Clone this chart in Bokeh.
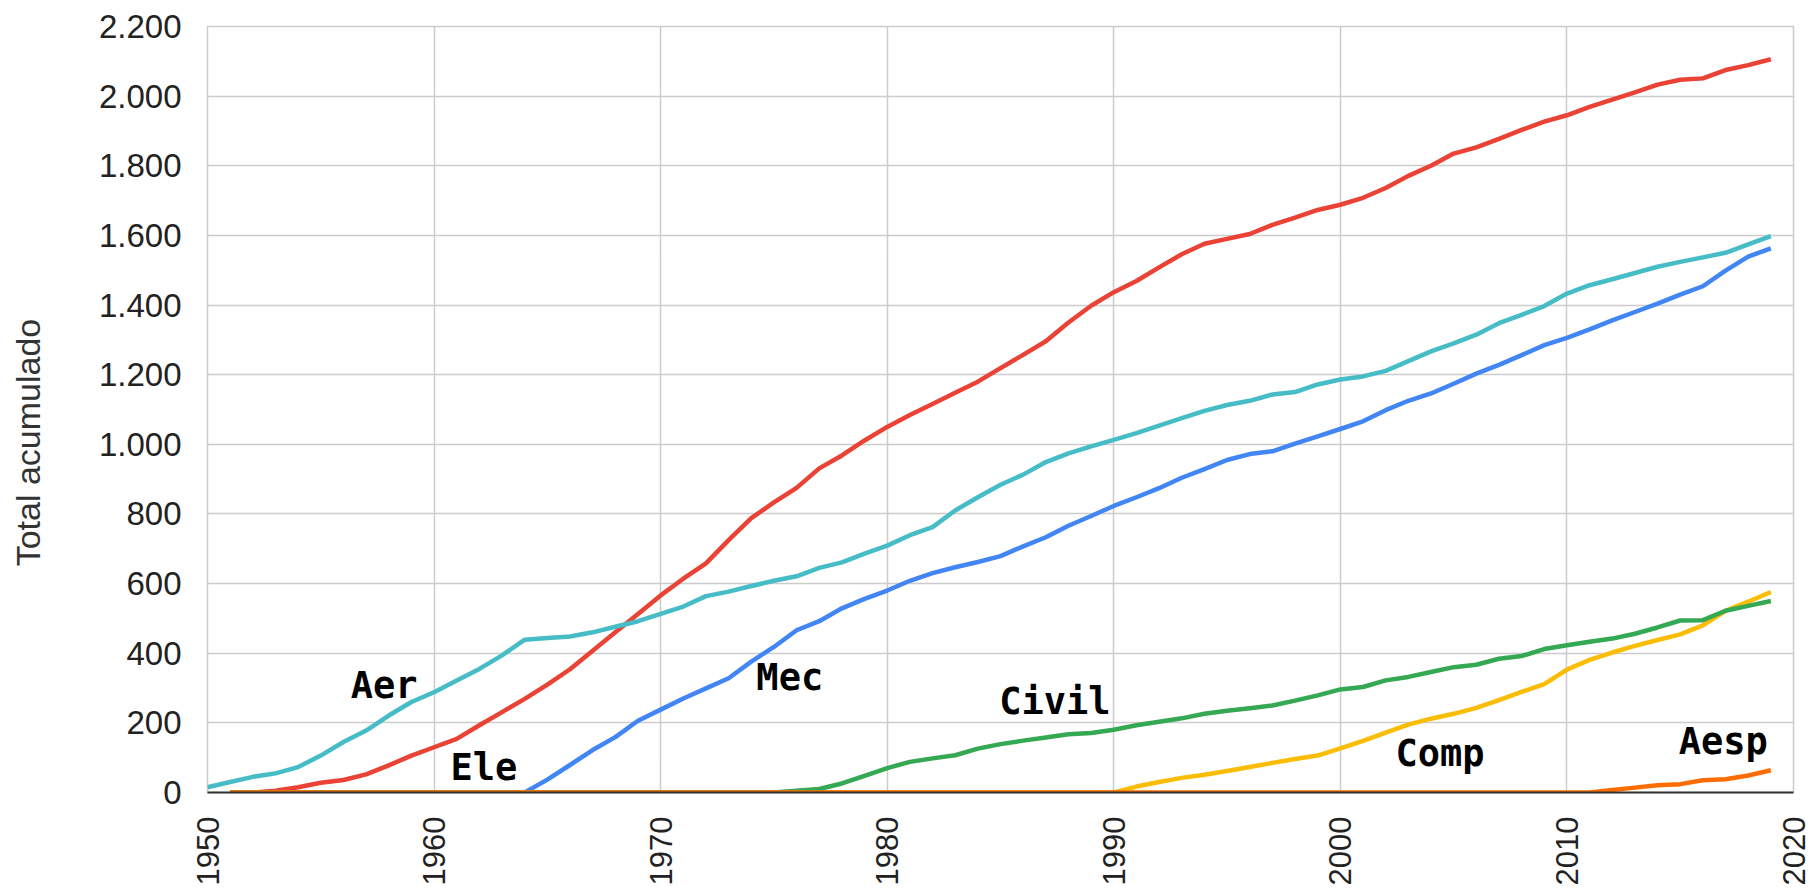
import math
import numpy as np
from bokeh.plotting import figure
from bokeh.models import ColumnDataSource, FixedTicker, Range1d, LinearAxis
from bokeh.core.properties import value
from bokeh.embed import file_html
from bokeh.resources import INLINE

years = list(range(1950, 2020))

mec = [None,
       0, 0, 0, 0, 0, 0, 0, 0, 0, 0, 0, 0, 0, 0,
       37, 79, 122, 159, 206, 238, 270, 299, 328, 376, 418, 466, 492, 529, 556,
       580, 608, 630, 647, 662, 679, 707, 733, 766, 794, 823, 848, 874, 904, 929,
       955, 972, 980, 1002, 1023, 1044, 1066, 1098, 1125, 1146, 1174, 1203, 1228,
       1256, 1285, 1306, 1330, 1356, 1380, 1404, 1430, 1454, 1499, 1539, 1563]

ele = [None,
       0, 0, 5, 15, 28, 36, 52, 78, 106, 130, 154, 193, 231, 269,
       310, 354, 407, 460, 513, 566, 614, 658, 725, 788, 833, 875, 931, 968, 1011,
       1050, 1084, 1116, 1148, 1180, 1219, 1257, 1296, 1350, 1398, 1437, 1469, 1508,
       1546, 1576, 1590, 1604, 1630, 1651, 1673, 1688, 1708, 1736, 1771, 1800, 1835,
       1853, 1877, 1903, 1927, 1945, 1969, 1990, 2011, 2033, 2047, 2051, 2075, 2089, 2106]

comp = [None,
        0, 0, 0, 0, 0, 0, 0, 0, 0, 0, 0, 0, 0, 0, 0, 0, 0, 0, 0, 0,
        0, 0, 0, 0, 0, 0, 0, 0, 0, 0, 0, 0, 0, 0, 0, 0, 0, 0, 0, 0,
        17, 30, 42, 51, 62, 73, 85, 96, 106, 127, 148, 172, 195, 212, 226,
        243, 265, 289, 311, 353, 381, 402, 421, 438, 454, 480, 522, 548, 576]

civil = [None,
         0, 0, 0, 0, 0, 0, 0, 0, 0, 0, 0, 0, 0, 0, 0, 0, 0, 0, 0, 0,
         0, 0, 0, 0, 0,
         5, 10, 26, 48, 70, 88, 98, 107, 126, 139, 149, 158, 167, 171, 180,
         193, 203, 213, 226, 235, 242, 250, 264, 279, 296, 303, 322, 332, 346, 360,
         367, 384, 392, 412, 423, 433, 442, 456, 474, 494, 495, 522, 536, 550]

aesp = [None,
        0, 0, 0, 0, 0, 0, 0, 0, 0, 0, 0, 0, 0, 0, 0, 0, 0, 0, 0, 0,
        0, 0, 0, 0, 0, 0, 0, 0, 0, 0, 0, 0, 0, 0, 0, 0, 0, 0, 0, 0,
        0, 0, 0, 0, 0, 0, 0, 0, 0, 0, 0, 0, 0, 0, 0, 0, 0, 0, 0, 0, 0,
        7, 14, 21, 24, 35, 38, 49, 64]

aer = [15, 30, 45, 55, 73, 106, 145, 178, 221, 260, 288, 322, 355, 394, 439,
       444, 448, 460, 476, 492, 513, 534, 564, 577, 593, 608, 621, 645, 661, 686,
       709, 739, 762, 810, 848, 884, 913, 949, 974, 994, 1013, 1032, 1054, 1075, 1096,
       1113, 1125, 1143, 1150, 1172, 1186, 1195, 1211, 1239, 1267, 1290, 1315, 1348,
       1372, 1397, 1433, 1457, 1474, 1492, 1510, 1524, 1537, 1550, 1574, 1598]

series_names = ["Mec", "Ele", "Comp", "Civil", "Aesp", "Aer"]
series_values = [mec, ele, comp, civil, aesp, aer]
series_colors = ["#4285F4", "#EA4335", "#FBBC04", "#34A853", "#FF6D01", "#46BDC6"]

label_text = ["Aer", "Ele", "Mec", "Civil", "Comp", "Aesp"]
label_x = [1957.8, 1962.2, 1975.7, 1987.4, 2004.4, 2016.9]
label_y = [307, 71, 330, 261, 111, 146]

x_ticks = [1950, 1960, 1970, 1980, 1990, 2000, 2010, 2020]
y_ticks = [0, 200, 400, 600, 800, 1000, 1200, 1400, 1600, 1800, 2000, 2200]
y_tick_labels = ["0", "200", "400", "600", "800", "1.000", "1.200", "1.400",
                 "1.600", "1.800", "2.000", "2.200"]
y_title = "Total acumulado"

p = figure(width=1811, height=888,
           x_range=Range1d(1950, 2020), y_range=Range1d(0, 2200),
           output_backend="svg", toolbar_location=None,
           min_border_left=207, min_border_right=18,
           min_border_top=26, min_border_bottom=96)

p.background_fill_color = "white"
p.border_fill_color = "white"
p.outline_line_color = "#cccccc"
p.outline_line_width = 1.5

p.xgrid.grid_line_color = "#cccccc"
p.xgrid.grid_line_width = 1.5
p.ygrid.grid_line_color = "#cccccc"
p.ygrid.grid_line_width = 1.5

p.xaxis.ticker = FixedTicker(ticks=x_ticks)
p.xaxis.major_label_orientation = math.pi / 2
p.xaxis.major_label_text_font = "Liberation Sans"
p.xaxis.major_label_text_font_size = "31px"
p.xaxis.major_label_text_color = "#222222"
p.xaxis.axis_line_color = "#333333"
p.xaxis.axis_line_width = 2
p.xaxis.major_tick_line_color = None
p.xaxis.minor_tick_line_color = None
p.xaxis.major_label_standoff = 18

p.yaxis.ticker = FixedTicker(ticks=y_ticks)
p.yaxis.major_label_overrides = {t: l for t, l in zip(y_ticks, y_tick_labels)}
p.yaxis.major_label_text_font = "Liberation Sans"
p.yaxis.major_label_text_font_size = "33px"
p.yaxis.major_label_text_color = "#222222"
p.yaxis.axis_line_color = None
p.yaxis.major_tick_line_color = None
p.yaxis.minor_tick_line_color = None
p.yaxis.major_label_standoff = 20

# outer axis that only carries the title; trailing no-break spaces move the
# visible words down so that they sit where the reference puts them
title_axis = LinearAxis(ticker=FixedTicker(ticks=[]),
                        axis_line_color=None, major_tick_line_color=None,
                        minor_tick_line_color=None,
                        axis_label=y_title + "\u00a0" * 7,
                        axis_label_standoff=49,
                        axis_label_text_font="Liberation Sans",
                        axis_label_text_font_style="normal",
                        axis_label_text_font_size="34px",
                        axis_label_text_color="#333333")
p.add_layout(title_axis, "left")

for name, vals, col in zip(series_names, series_values, series_colors):
    arr = np.array([np.nan if v is None else v for v in vals], dtype=float)
    src = ColumnDataSource(data=dict(x=years, y=arr))
    p.line("x", "y", source=src, line_color=col, line_width=4.5, line_join="round")

lab_src = ColumnDataSource(data=dict(x=label_x, y=label_y, t=label_text))
p.text("x", "y", text="t", source=lab_src,
       text_font=value("DejaVu Sans Mono"), text_font_style="bold",
       text_font_size="37px", text_color="black",
       text_align="center", text_baseline="alphabetic")

open("out.html", "w").write(file_html(p, INLINE))
